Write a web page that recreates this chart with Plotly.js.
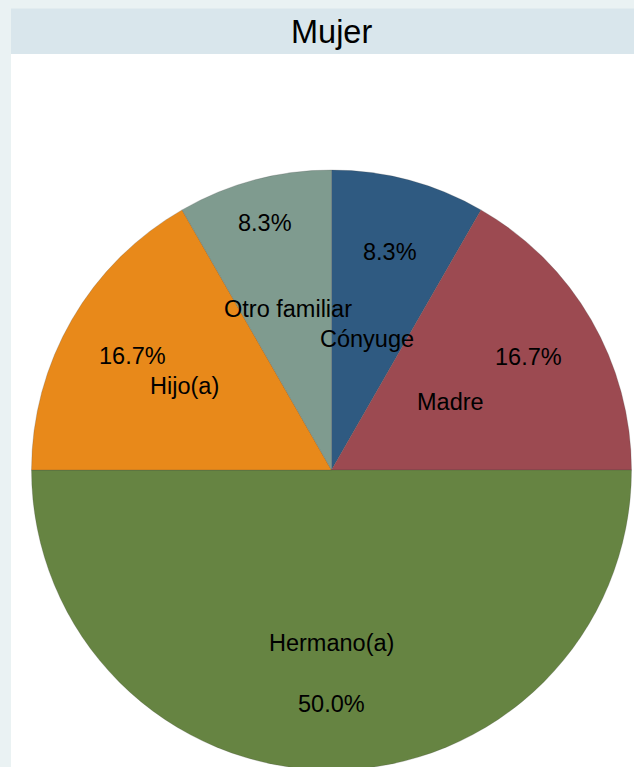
<!DOCTYPE html>
<html>
<head>
<meta charset="utf-8">
<script src="https://cdn.plot.ly/plotly-3.0.1.min.js"></script>
<style>
html,body{margin:0;padding:0;overflow:hidden;background:#EAF2F3;}
#chart{width:634px;height:772px;}
</style>
</head>
<body>
<div id="chart"></div>
<script>
// Data
var categories = ["Cónyuge", "Madre", "Hermano(a)", "Hijo(a)", "Otro familiar"];
var values = [8.3, 16.7, 50.0, 16.7, 8.3];
var pctLabels = ["8.3%", "16.7%", "50.0%", "16.7%", "8.3%"];
var colors = ["#2F5A81", "#9C4A51", "#668442", "#E8891A", "#7F9B8F"];

// Layout constants (pixels)
var W = 634, H = 772;
var CX = 331.5, CY = 470, R = 300;
var pctRadius = [0.757, 0.76, 0.777, 0.767, 0.855];
var nameRadius = [0.457, 0.46, 0.572, 0.565, 0.558];

var total = values.reduce(function(a,b){return a+b;},0);
var annotations = [];
var cum = 0;
var fnt = {family: "Liberation Sans, Arial, sans-serif", size: 23.5, color: "#000"};
for (var i = 0; i < values.length; i++) {
  var mid = (cum + values[i]/2) / total * 2 * Math.PI;
  cum += values[i];
  var s = Math.sin(mid), c = Math.cos(mid);
  var px = CX + pctRadius[i]*R*s, py = CY - pctRadius[i]*R*c;
  var nx = CX + nameRadius[i]*R*s, ny = CY - nameRadius[i]*R*c;
  annotations.push({xref:"paper", yref:"paper", x: px/W, y: 1 - (py+1)/H,
    text: pctLabels[i], showarrow:false, xanchor:"center", yanchor:"middle", font: fnt});
  annotations.push({xref:"paper", yref:"paper", x: nx/W, y: 1 - (ny+1)/H,
    text: categories[i], showarrow:false, xanchor:"center", yanchor:"middle", font: fnt});
}
annotations.push({xref:"paper", yref:"paper", x: 331.5/W, y: 1 - 32/H,
  text: "Mujer", showarrow:false, xanchor:"center", yanchor:"middle",
  font: {family: "Liberation Sans, Arial, sans-serif", size: 32.5, color: "#000"}});

var trace = {
  type: "pie",
  labels: categories,
  values: values,
  sort: false,
  direction: "clockwise",
  rotation: 0,
  textinfo: "none",
  hoverinfo: "label+percent",
  marker: {colors: colors, line: {width: 0.6, color: "rgba(60,60,60,0.35)"}},
  domain: {x: [(CX-R)/W, (CX+R)/W], y: [1 - (CY+R)/H, 1 - (CY-R)/H]},
  showlegend: false
};

var layout = {
  width: W, height: H,
  margin: {l:0, r:0, t:0, b:0},
  paper_bgcolor: "#EAF2F3",
  showlegend: false,
  shapes: [
    {type:"rect", xref:"paper", yref:"paper", x0: 11/W, x1: 1, y0: 0, y1: 1 - 54/H,
     fillcolor:"#FFFFFF", line:{width:0}, layer:"below"},
    {type:"rect", xref:"paper", yref:"paper", x0: 11/W, x1: 1, y0: 1 - 54/H, y1: 1 - 8.5/H,
     fillcolor:"#D9E6EC", line:{width:0}, layer:"below"}
  ],
  annotations: annotations
};

Plotly.newPlot("chart", [trace], layout, {displayModeBar:false, staticPlot:true});
</script>
</body>
</html>
